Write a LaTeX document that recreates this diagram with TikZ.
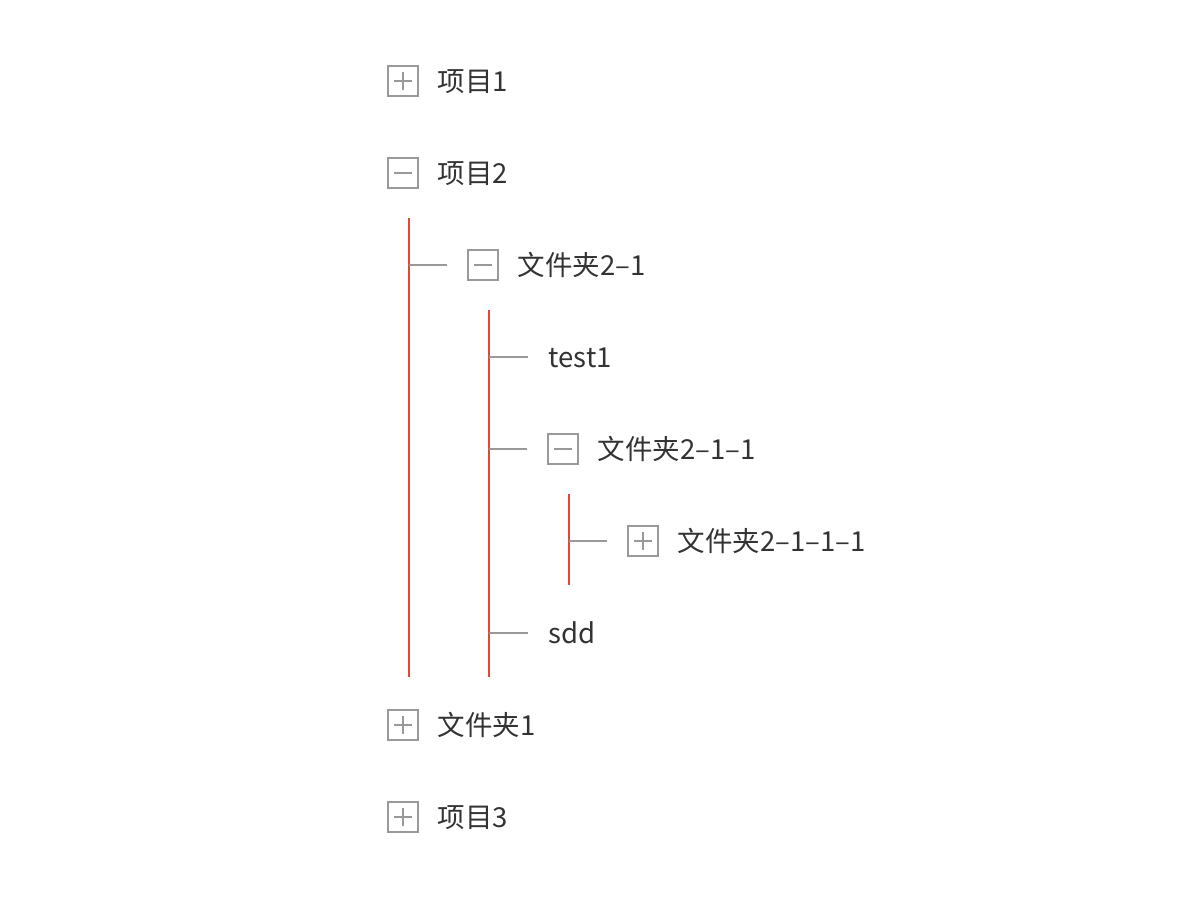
\documentclass[tikz,border=0pt]{standalone}
\usepackage{fontspec}
\setmainfont{Noto Sans CJK SC}
\usepackage{xcolor}
\definecolor{treered}{HTML}{E2483A}
\definecolor{treegray}{HTML}{999999}
\definecolor{treetext}{HTML}{333333}

\begin{document}
\begin{tikzpicture}[x=1pt, y=-1pt, line width=1.5pt,
		box/.style={draw=treegray, line width=1.7pt, minimum size=30pt, inner sep=0pt},
		plusbox/.style={box, path picture={
				\draw[treegray, line width=1.3pt] ([xshift=-9pt]path picture bounding box.center) -- ([xshift=9pt]path picture bounding box.center);
				\draw[treegray, line width=1.3pt] ([yshift=-9pt]path picture bounding box.center) -- ([yshift=9pt]path picture bounding box.center);}},
		minusbox/.style={box, path picture={
				\draw[treegray, line width=1.3pt] ([xshift=-9pt]path picture bounding box.center) -- ([xshift=9pt]path picture bounding box.center);}},
		label/.style={anchor=base west, inner sep=0pt, text=treetext, font=\fontsize{27.5}{30}\selectfont},
		guide/.style={draw=treered, line width=2pt},
		branch/.style={draw=treegray, line width=1.5pt, shorten >=20pt}]
		\useasboundingbox (0,0) rectangle (1200,900);

		% top level
		\node[plusbox] (b1) at (403, 81) {};
		\node[label] (t1) at (437, 91) {项目1};
		\node[minusbox] (b2) at (403, 173) {};
		\node[label] (t2) at (437, 183) {项目2};

		% children of 项目2
		\coordinate (g1top) at (409, 218);
		\coordinate (g1bot) at (409, 677);
		\draw[guide] (g1top) -- (g1bot);
		\node[minusbox] (b21) at (483, 265) {};
		\node[label] (t21) at (517, 275) {文件夹2–1};
		\draw[branch] (g1top |- b21) -- (b21.west);

		% children of 文件夹2-1
		\coordinate (g2top) at (489, 310);
		\coordinate (g2bot) at (489, 677);
		\draw[guide] (g2top) -- (g2bot);
		\node[label] (test) at (548, 367) {test1};
		\node[minusbox] (b211) at (563, 449) {};
		\node[label] (t211) at (597, 459) {文件夹2–1–1};
		\node[label] (sdd) at (548, 643) {sdd};
		\coordinate (ctest) at (548, 357);
		\coordinate (csdd) at (548, 633);
		\draw[branch] (g2top |- ctest) -- (ctest);
		\draw[branch] (g2top |- b211) -- (b211.west);
		\draw[branch] (g2top |- csdd) -- (csdd);

		% children of 文件夹2-1-1
		\coordinate (g3top) at (569, 494);
		\coordinate (g3bot) at (569, 585);
		\draw[guide] (g3top) -- (g3bot);
		\node[plusbox] (b2111) at (643, 541) {};
		\node[label] (t2111) at (677, 551) {文件夹2–1–1–1};
		\draw[branch] (g3top |- b2111) -- (b2111.west);

		% rest of top level
		\node[plusbox] (b3) at (403, 725) {};
		\node[label] (t3) at (437, 735) {文件夹1};
		\node[plusbox] (b4) at (403, 817) {};
		\node[label] (t4) at (437, 827) {项目3};
	\end{tikzpicture}
\end{document}
